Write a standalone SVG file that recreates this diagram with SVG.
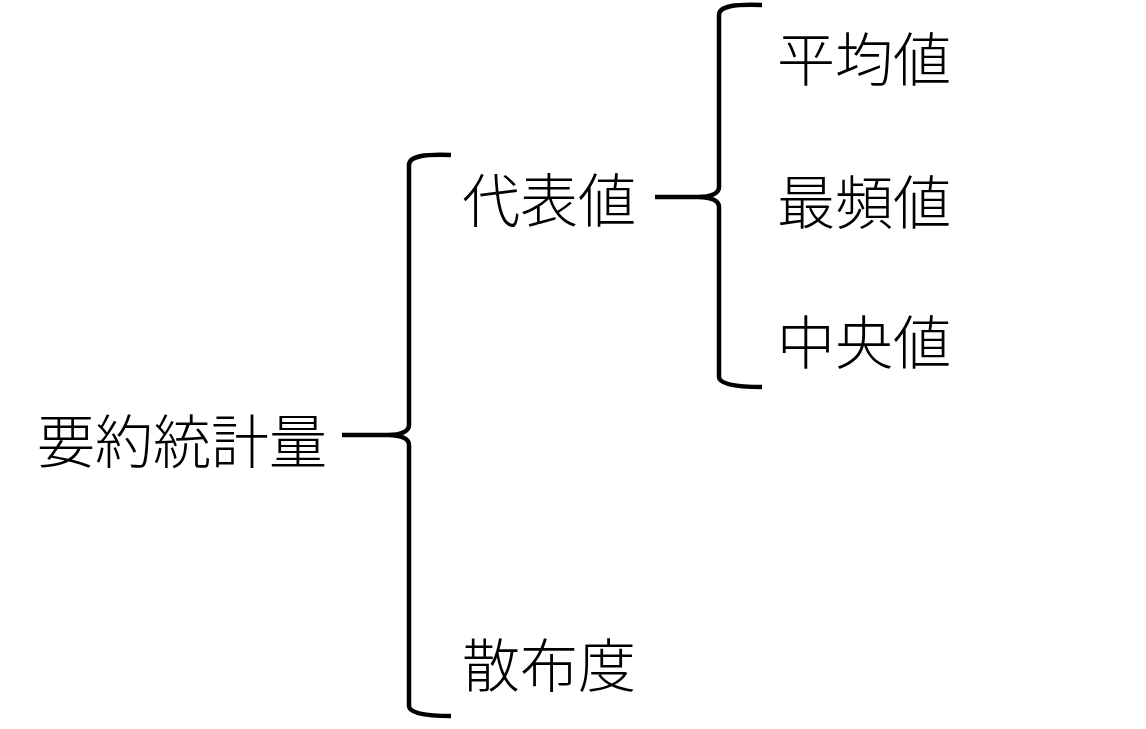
<svg xmlns="http://www.w3.org/2000/svg" width="1146" height="729" viewBox="0 0 1146 729">
<style>
.t{font-family:"Noto Sans CJK JP","Noto Sans CJK SC",sans-serif;font-size:58px;font-weight:300;fill:#000}
.b{fill:none;stroke:#000;stroke-width:4.5;stroke-linecap:butt;stroke-linejoin:round}
</style>
<rect width="1146" height="729" fill="#fff"/>
<g id="connectors">
<path class="b" d="M451,155 C425,154 409,156 409,165 L409,425 C409,431 402,435 388,435 L342,435 M388,435 C402,435 409,439 409,445 L409,706 C409,713 425,716 451,716"/>
<path class="b" d="M762,5 C735,4 719,6 719,15 L719,187 C719,193 712,197 698,197 L655,197 M698,197 C712,197 719,201 719,207 L719,377 C719,384 735,387 762,387"/>
</g>
<g id="n-summary"><text class="t" x="37" y="463">要約統計量</text></g>
<g id="n-representative"><text class="t" x="462" y="222">代表値</text></g>
<g id="n-dispersion"><text class="t" x="462" y="687">散布度</text></g>
<g id="n-mean"><text class="t" x="777" y="81">平均値</text></g>
<g id="n-mode"><text class="t" x="777" y="224">最頻値</text></g>
<g id="n-median"><text class="t" x="777" y="364">中央値</text></g>
</svg>
